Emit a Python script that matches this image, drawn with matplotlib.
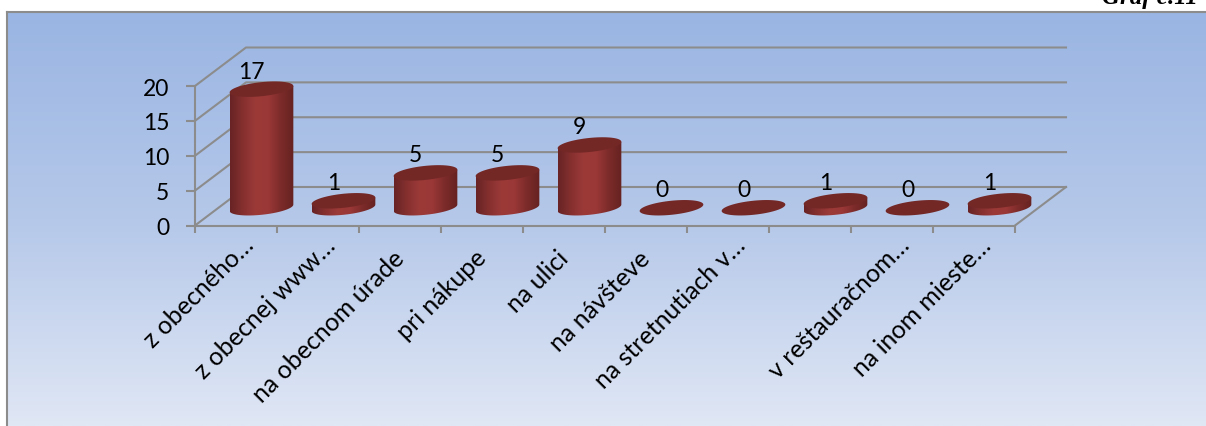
#!/usr/bin/env python3
import numpy as np
import matplotlib
matplotlib.use("Agg")
import matplotlib.pyplot as plt
from matplotlib.colors import LinearSegmentedColormap
from matplotlib.patches import Polygon

values = [17, 1, 5, 5, 9, 0, 0, 1, 0, 1]
labels = ["z obecného…", "z obecnej www…", "na obecnom úrade", "pri nákupe",
          "na ulici", "na návšteve", "na stretnutiach v…", "", "v reštauračnom…",
          "na inom mieste…"]
y_ticks = [0, 5, 10, 15, 20]

W, H = 1206, 427
GRID = "#8c8c8c"
plt.rcParams["font.family"] = ["Lato", "DejaVu Sans"]

fig = plt.figure(figsize=(W / 100, H / 100), dpi=100, facecolor="white")

# background panel with vertical gradient
bg = fig.add_axes([7 / W, 0, 1 - 7 / W, 1 - 13 / H])
bg_cmap = LinearSegmentedColormap.from_list("bg", ["#9ab5e3", "#b5c8e9", "#e0e7f5"])
bg.imshow(np.linspace(0, 1, 256).reshape(-1, 1), aspect="auto", cmap=bg_cmap)
bg.set_xticks([])
bg.set_yticks([])
for side in ["right", "bottom"]:
    bg.spines[side].set_visible(False)
for side in ["left", "top"]:
    bg.spines[side].set_color(GRID)
    bg.spines[side].set_linewidth(1.5)

# front plane of the 3d box
ax = fig.add_axes([195 / W, 1 - 226.5 / H, 820 / W, 139.5 / H])
ax.patch.set_alpha(0)
px_x = 10 / 820
px_y = 20 / 139.5
depth_x = 51 * px_x
depth_y = 38.5 * px_y

for s in ["top", "right"]:
    ax.spines[s].set_visible(False)
for s in ["left", "bottom"]:
    ax.spines[s].set_color(GRID)
    ax.spines[s].set_linewidth(1.5)
ax.set_xticks(range(11))
ax.set_xticklabels([])
ax.set_yticks(y_ticks)
ax.tick_params(axis="x", length=5, width=1.5, color=GRID)
ax.tick_params(axis="y", length=6.5, width=1.5, color=GRID, labelsize=16.5, pad=12)

for v in y_ticks:
    ax.plot([0, depth_x, 10 + depth_x], [v, v + depth_y, v + depth_y],
            color=GRID, lw=1.5, clip_on=False, zorder=1)
ax.plot([10, 10 + depth_x], [0, depth_y], color=GRID, lw=1.5, clip_on=False, zorder=1)

bar_cmap = LinearSegmentedColormap.from_list(
    "bar", ["#692325", "#85302f", "#9c3a38", "#9a3837", "#7c2b2a", "#662321"])
t = np.linspace(0, 2 * np.pi, 241)
tilt = np.radians(6)


def ellipse(cx, cy):
    # tilted ellipse, sizes in pixels converted to data units
    ex = 32 * np.cos(t) * np.cos(tilt) - 7 * np.sin(t) * np.sin(tilt)
    ey = 32 * np.cos(t) * np.sin(tilt) + 7 * np.sin(t) * np.cos(tilt)
    return cx + ex * px_x, cy + ey * px_y


for i, val in enumerate(values):
    cx = i + 0.5 + depth_x / 2
    cy = depth_y / 2 - 1.5 * px_y
    bx, by = ellipse(cx, cy)
    tx, ty = ellipse(cx, cy + val)
    if val > 0:
        right = np.argmax(bx[:-1])
        left = np.argmin(bx[:-1])
        # lower arc of the bottom ellipse, left end to right end
        order = np.arange(left, right + 241 if right < left else right + 1) % 240
        lower = list(zip(bx[order], by[order]))
        side = Polygon(lower + [(tx[right], ty[right]), (tx[left], ty[left])],
                       closed=True, transform=ax.transData, fc="none", ec="none")
        ax.add_patch(side)
        im = ax.imshow(np.linspace(0, 1, 64).reshape(1, -1), cmap=bar_cmap, aspect="auto",
                       extent=[bx.min(), bx.max(), cy - 3, cy + val + 3], zorder=3)
        im.set_clip_box(fig.bbox)  # last bar sticks out past the front plane
        im.set_clip_path(side)
    ax.fill(tx, ty, color="#732826", ec="none", zorder=4, clip_on=False)
    ax.text(cx - 10 * px_x, cy + val + 18 * px_y, str(val), ha="center", va="center",
            fontsize=16.5, color="black", zorder=5, clip_on=False)

ax.set_xlim(0, 10)
ax.set_ylim(0, 20)
ax.set_aspect("auto")

for i, lab in enumerate(labels):
    if lab.endswith("…"):
        offset = (19, -20.5)
    else:
        offset = (6, -33.5)
    ax.annotate(lab, (i + 0.5, 0), xytext=offset, textcoords="offset pixels",
                rotation=45, rotation_mode="anchor", ha="right", va="baseline",
                fontsize=18, color="black", annotation_clip=False)

fig.text(1198 / W, 1 - 4 / H, "Graf č.11", ha="right", va="baseline", fontsize=18,
         family="Liberation Serif", style="italic", weight="bold")

fig.savefig("out.png", dpi=100)
